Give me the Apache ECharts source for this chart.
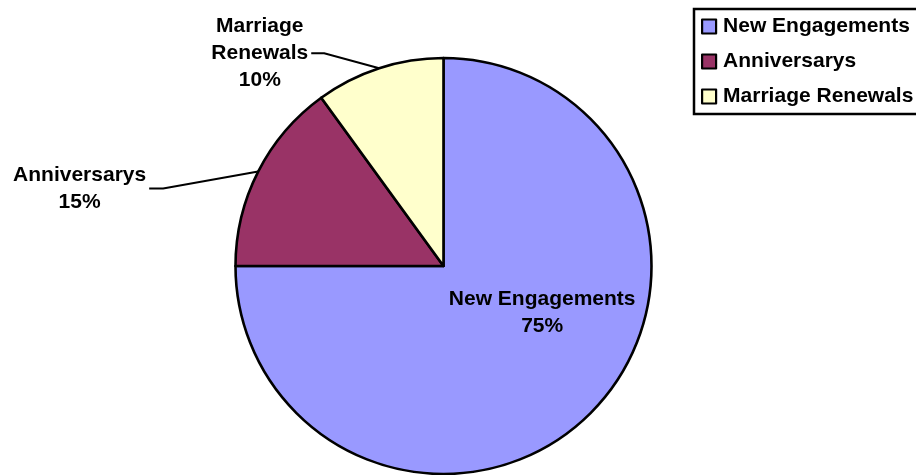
<!DOCTYPE html>
<html>
<head>
<meta charset="utf-8">
<script src="https://cdn.jsdelivr.net/npm/echarts@6/dist/echarts.min.js"></script>
<style>
  html, body { margin: 0; padding: 0; background: #fff; }
  #chart { width: 916px; height: 475px; }
</style>
</head>
<body>
<div id="chart"></div>
<script>
// Event mix by booking type (share of total, %)
const categories = ['New Engagements', 'Anniversarys', 'Marriage Renewals'];
const shares = [75, 15, 10];
const labelNames = ['New Engagements', 'Anniversarys', 'Marriage\nRenewals'];
const sliceColors = ['#9999FF', '#993366', '#FFFFCC'];

const FONT = '"Liberation Sans", Arial, Helvetica, sans-serif';
const FONT_SIZE = 21;

// Label placement: the big slice keeps its label inside (nudged),
// the small slices get an angled leader line ending in a short horizontal tail.
const labelTweaks = {
  0: { dx: 23, dy: -29 },
  1: { bend: [-95, 17], tail: 14, gap: 3 },
  2: { bend: [-55, -15], tail: 13, gap: 3 }
};

const chart = echarts.init(document.getElementById('chart'), null, { renderer: 'canvas' });

chart.setOption({
  animation: false,
  backgroundColor: '#ffffff',
  legend: {
    orient: 'vertical',
    left: 694,
    top: 9,
    data: categories,
    icon: 'rect',
    itemWidth: 14,
    itemHeight: 14,
    itemGap: 14,
    padding: [7, 8, 7, 7],
    borderColor: '#000',
    borderWidth: 2.5,
    borderRadius: 0,
    selectedMode: false,
    itemStyle: { borderColor: '#000', borderWidth: 2.2 },
    textStyle: {
      fontFamily: FONT,
      fontWeight: 'bold',
      fontSize: FONT_SIZE,
      lineHeight: 20,
      color: '#000',
      padding: [0, 0, 0, 2]
    }
  },
  series: [{
    type: 'pie',
    center: [443.5, 266],
    radius: 208,
    startAngle: 90,
    clockwise: true,
    avoidLabelOverlap: false,
    emphasis: { disabled: true },
    itemStyle: { borderColor: '#000', borderWidth: 2.6 },
    label: {
      show: true,
      position: 'outside',
      fontFamily: FONT,
      fontWeight: 'bold',
      fontSize: FONT_SIZE,
      lineHeight: 27,
      color: '#000',
      align: 'center',
      formatter: function (p) {
        return labelNames[p.dataIndex] + '\n' + shares[p.dataIndex] + '%';
      }
    },
    labelLine: {
      show: true,
      length: 20,
      length2: 14,
      lineStyle: { color: '#000', width: 2 }
    },
    labelLayout: function (params) {
      const t = labelTweaks[params.dataIndex];
      if (t.dx != null) {
        return { dx: t.dx, dy: t.dy };
      }
      const p0 = params.labelLinePoints[0];
      const bend = [p0[0] + t.bend[0], p0[1] + t.bend[1]];
      const end = [bend[0] - t.tail, bend[1]];
      return {
        x: end[0] - t.gap - params.labelRect.width / 2,
        y: end[1],
        align: 'center',
        verticalAlign: 'middle',
        labelLinePoints: [p0, bend, end]
      };
    },
    data: categories.map(function (name, i) {
      const item = {
        name: name,
        value: shares[i],
        itemStyle: { color: sliceColors[i] }
      };
      if (i === 0) {
        item.label = { position: 'inside' };
        item.labelLine = { show: false };
      }
      return item;
    })
  }]
});
</script>
</body>
</html>
